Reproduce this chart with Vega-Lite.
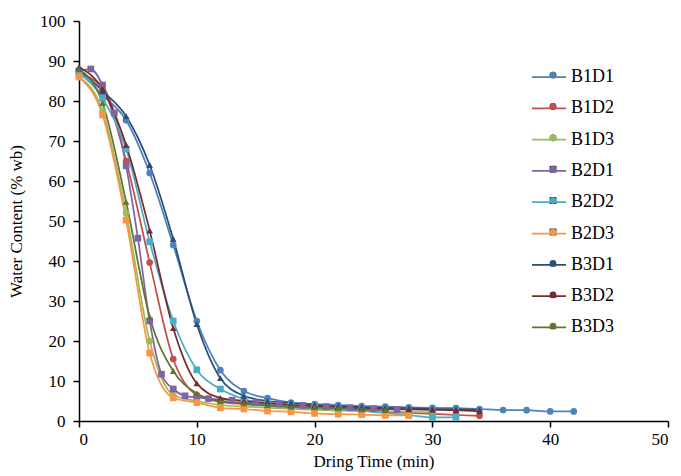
{
  "$schema": "https://vega.github.io/schema/vega-lite/v6.json",
  "width": 589,
  "height": 400,
  "autosize": {"type": "none"},
  "padding": {"left": 79, "top": 21, "right": 13, "bottom": 55},
  "background": "white",
  "config": {
    "view": {"stroke": null},
    "axis": {
      "grid": false,
      "domainColor": "black",
      "domainWidth": 1.5,
      "tickColor": "black",
      "tickWidth": 1.5,
      "tickSize": 6,
      "labelFont": "Liberation Serif",
      "labelFontSize": 17,
      "labelColor": "black",
      "titleFont": "Liberation Serif",
      "titleFontSize": 17,
      "titleFontWeight": "normal",
      "titleColor": "black"
    },
    "legend": {
      "title": null,
      "orient": "none",
      "labelFont": "Liberation Serif",
      "labelFontSize": 18,
      "labelColor": "black",
      "symbolOpacity": 1
    }
  },
  "resolve": {"legend": {"color": "independent"}},
  "data": {
    "values": [
      {"s": "B1D1", "t": 0, "w": 87.5}, {"s": "B1D1", "t": 2, "w": 81.5}, {"s": "B1D1", "t": 4, "w": 75.2}, {"s": "B1D1", "t": 6, "w": 62}, {"s": "B1D1", "t": 8, "w": 44}, {"s": "B1D1", "t": 10, "w": 25}, {"s": "B1D1", "t": 12, "w": 12.7}, {"s": "B1D1", "t": 14, "w": 7.5}, {"s": "B1D1", "t": 16, "w": 5.7}, {"s": "B1D1", "t": 18, "w": 4.6}, {"s": "B1D1", "t": 20, "w": 4.2}, {"s": "B1D1", "t": 22, "w": 4.0}, {"s": "B1D1", "t": 24, "w": 3.75}, {"s": "B1D1", "t": 26, "w": 3.6}, {"s": "B1D1", "t": 28, "w": 3.4}, {"s": "B1D1", "t": 30, "w": 3.3}, {"s": "B1D1", "t": 32, "w": 3.2}, {"s": "B1D1", "t": 34, "w": 3.0}, {"s": "B1D1", "t": 36, "w": 2.75}, {"s": "B1D1", "t": 38, "w": 2.7}, {"s": "B1D1", "t": 40, "w": 2.4}, {"s": "B1D1", "t": 42, "w": 2.4},
      {"s": "B1D2", "t": 0, "w": 87}, {"s": "B1D2", "t": 2, "w": 83}, {"s": "B1D2", "t": 4, "w": 65}, {"s": "B1D2", "t": 6, "w": 39.6}, {"s": "B1D2", "t": 8, "w": 15.5}, {"s": "B1D2", "t": 10, "w": 6.5}, {"s": "B1D2", "t": 12, "w": 4.8}, {"s": "B1D2", "t": 14, "w": 4.2}, {"s": "B1D2", "t": 16, "w": 3.8}, {"s": "B1D2", "t": 18, "w": 3.4}, {"s": "B1D2", "t": 20, "w": 3.1}, {"s": "B1D2", "t": 22, "w": 2.8}, {"s": "B1D2", "t": 24, "w": 2.6}, {"s": "B1D2", "t": 26, "w": 2.3}, {"s": "B1D2", "t": 28, "w": 2.0}, {"s": "B1D2", "t": 30, "w": 1.8}, {"s": "B1D2", "t": 32, "w": 1.5}, {"s": "B1D2", "t": 34, "w": 1.3},
      {"s": "B1D3", "t": 0, "w": 86}, {"s": "B1D3", "t": 2, "w": 77.5}, {"s": "B1D3", "t": 4, "w": 52}, {"s": "B1D3", "t": 6, "w": 20}, {"s": "B1D3", "t": 8, "w": 6.5}, {"s": "B1D3", "t": 10, "w": 5}, {"s": "B1D3", "t": 12, "w": 4.0}, {"s": "B1D3", "t": 14, "w": 3.6}, {"s": "B1D3", "t": 16, "w": 3.3}, {"s": "B1D3", "t": 18, "w": 3.0}, {"s": "B1D3", "t": 20, "w": 2.8}, {"s": "B1D3", "t": 22, "w": 2.6}, {"s": "B1D3", "t": 24, "w": 2.5}, {"s": "B1D3", "t": 26, "w": 2.4}, {"s": "B1D3", "t": 28, "w": 2.3}, {"s": "B1D3", "t": 30, "w": 2.2},
      {"s": "B2D1", "t": 0, "w": 87.5}, {"s": "B2D1", "t": 1, "w": 88}, {"s": "B2D1", "t": 2, "w": 84}, {"s": "B2D1", "t": 3, "w": 77}, {"s": "B2D1", "t": 4, "w": 63.8}, {"s": "B2D1", "t": 5, "w": 45.7}, {"s": "B2D1", "t": 6, "w": 25}, {"s": "B2D1", "t": 7, "w": 11.7}, {"s": "B2D1", "t": 8, "w": 8}, {"s": "B2D1", "t": 9, "w": 6.3}, {"s": "B2D1", "t": 10, "w": 5.9}, {"s": "B2D1", "t": 11, "w": 5.6}, {"s": "B2D1", "t": 13, "w": 5.2}, {"s": "B2D1", "t": 15, "w": 4.6}, {"s": "B2D1", "t": 17, "w": 4.2}, {"s": "B2D1", "t": 19, "w": 3.9}, {"s": "B2D1", "t": 21, "w": 3.6}, {"s": "B2D1", "t": 23, "w": 3.3}, {"s": "B2D1", "t": 25, "w": 3.1}, {"s": "B2D1", "t": 27, "w": 2.9},
      {"s": "B2D2", "t": 0, "w": 87}, {"s": "B2D2", "t": 2, "w": 80.7}, {"s": "B2D2", "t": 4, "w": 68}, {"s": "B2D2", "t": 6, "w": 44.8}, {"s": "B2D2", "t": 8, "w": 25}, {"s": "B2D2", "t": 10, "w": 12.8}, {"s": "B2D2", "t": 12, "w": 8}, {"s": "B2D2", "t": 14, "w": 5.5}, {"s": "B2D2", "t": 16, "w": 4.3}, {"s": "B2D2", "t": 18, "w": 3.8}, {"s": "B2D2", "t": 20, "w": 3.3}, {"s": "B2D2", "t": 22, "w": 2.9}, {"s": "B2D2", "t": 24, "w": 2.5}, {"s": "B2D2", "t": 26, "w": 2.0}, {"s": "B2D2", "t": 28, "w": 1.5}, {"s": "B2D2", "t": 30, "w": 0.9}, {"s": "B2D2", "t": 32, "w": 0.9},
      {"s": "B2D3", "t": 0, "w": 86}, {"s": "B2D3", "t": 2, "w": 76.5}, {"s": "B2D3", "t": 4, "w": 50.2}, {"s": "B2D3", "t": 6, "w": 17}, {"s": "B2D3", "t": 8, "w": 5.8}, {"s": "B2D3", "t": 10, "w": 4.6}, {"s": "B2D3", "t": 12, "w": 3.3}, {"s": "B2D3", "t": 14, "w": 3.0}, {"s": "B2D3", "t": 16, "w": 2.5}, {"s": "B2D3", "t": 18, "w": 2.3}, {"s": "B2D3", "t": 20, "w": 1.9}, {"s": "B2D3", "t": 22, "w": 1.7}, {"s": "B2D3", "t": 24, "w": 1.6}, {"s": "B2D3", "t": 26, "w": 1.4}, {"s": "B2D3", "t": 28, "w": 1.4},
      {"s": "B3D1", "t": 0, "w": 88}, {"s": "B3D1", "t": 2, "w": 82.5}, {"s": "B3D1", "t": 4, "w": 76.2}, {"s": "B3D1", "t": 6, "w": 64}, {"s": "B3D1", "t": 8, "w": 45.5}, {"s": "B3D1", "t": 10, "w": 24.2}, {"s": "B3D1", "t": 12, "w": 10.7}, {"s": "B3D1", "t": 14, "w": 6.3}, {"s": "B3D1", "t": 16, "w": 5.0}, {"s": "B3D1", "t": 18, "w": 4.5}, {"s": "B3D1", "t": 20, "w": 4.0}, {"s": "B3D1", "t": 22, "w": 3.7}, {"s": "B3D1", "t": 24, "w": 3.5}, {"s": "B3D1", "t": 26, "w": 3.3}, {"s": "B3D1", "t": 28, "w": 3.2}, {"s": "B3D1", "t": 30, "w": 3.0}, {"s": "B3D1", "t": 32, "w": 2.9}, {"s": "B3D1", "t": 34, "w": 2.8},
      {"s": "B3D2", "t": 0, "w": 88.5}, {"s": "B3D2", "t": 2, "w": 83}, {"s": "B3D2", "t": 4, "w": 69}, {"s": "B3D2", "t": 6, "w": 47.6}, {"s": "B3D2", "t": 8, "w": 23.2}, {"s": "B3D2", "t": 10, "w": 9.4}, {"s": "B3D2", "t": 12, "w": 5.8}, {"s": "B3D2", "t": 14, "w": 5.0}, {"s": "B3D2", "t": 16, "w": 4.5}, {"s": "B3D2", "t": 18, "w": 4.0}, {"s": "B3D2", "t": 20, "w": 3.7}, {"s": "B3D2", "t": 22, "w": 3.4}, {"s": "B3D2", "t": 24, "w": 3.2}, {"s": "B3D2", "t": 26, "w": 3.0}, {"s": "B3D2", "t": 28, "w": 2.9}, {"s": "B3D2", "t": 30, "w": 2.8}, {"s": "B3D2", "t": 32, "w": 2.7}, {"s": "B3D2", "t": 34, "w": 2.4},
      {"s": "B3D3", "t": 0, "w": 88}, {"s": "B3D3", "t": 2, "w": 79.5}, {"s": "B3D3", "t": 4, "w": 54.8}, {"s": "B3D3", "t": 6, "w": 26}, {"s": "B3D3", "t": 8, "w": 12.5}, {"s": "B3D3", "t": 10, "w": 6.9}, {"s": "B3D3", "t": 12, "w": 5.0}, {"s": "B3D3", "t": 14, "w": 4.4}, {"s": "B3D3", "t": 16, "w": 4.0}, {"s": "B3D3", "t": 18, "w": 3.6}, {"s": "B3D3", "t": 20, "w": 3.4}, {"s": "B3D3", "t": 22, "w": 3.2}, {"s": "B3D3", "t": 24, "w": 2.9}, {"s": "B3D3", "t": 26, "w": 2.75}
    ]
  },
  "encoding": {
    "x": {
      "field": "t", "type": "quantitative",
      "scale": {"domain": [0, 50], "nice": false},
      "axis": {"title": "Dring Time (min)", "values": [0, 10, 20, 30, 40, 50], "labelPadding": 4, "titlePadding": 6}
    },
    "y": {
      "field": "w", "type": "quantitative",
      "scale": {"domain": [0, 100], "nice": false},
      "axis": {"title": "Water Content (% wb)", "values": [0, 10, 20, 30, 40, 50, 60, 70, 80, 90, 100], "labelPadding": 8, "titlePadding": 14}
    }
  },
  "layer": [
    {
      "mark": {"type": "line", "interpolate": "monotone", "strokeWidth": 1.75},
      "encoding": {
        "color": {
          "field": "s", "type": "nominal",
          "scale": {
            "domain": ["B1D1", "B1D2", "B1D3", "B2D1", "B2D2", "B2D3", "B3D1", "B3D2", "B3D3"],
            "range": ["#4F81BD", "#C0504D", "#9BBB59", "#8064A2", "#4BACC6", "#F79646", "#2C4D75", "#772C2A", "#5F7530"]
          },
          "legend": {
            "symbolType": "stroke",
            "symbolSize": 1156,
            "symbolStrokeWidth": 1.75,
            "legendX": 452,
            "legendY": 38,
            "rowPadding": 4.3,
            "labelOffset": 4
          }
        }
      }
    },
    {
      "mark": {"type": "point", "filled": true, "opacity": 1, "size": 45},
      "encoding": {
        "color": {
          "field": "s", "type": "nominal",
          "legend": {
            "legendX": 465,
            "legendY": 45,
            "symbolSize": 45,
            "rowPadding": 13.4,
            "labelOffset": 4,
            "labelExpr": "' '"
          }
        },
        "shape": {
          "field": "s", "type": "nominal",
          "scale": {
            "domain": ["B1D1", "B1D2", "B1D3", "B2D1", "B2D2", "B2D3", "B3D1", "B3D2", "B3D3"],
            "range": ["circle", "circle", "circle", "square", "square", "square", "triangle-up", "triangle-up", "triangle-up"]
          },
          "legend": {
            "legendX": 465,
            "legendY": 45,
            "symbolSize": 45,
            "rowPadding": 13.4,
            "labelOffset": 4,
            "labelExpr": "' '"
          }
        }
      }
    }
  ]
}
